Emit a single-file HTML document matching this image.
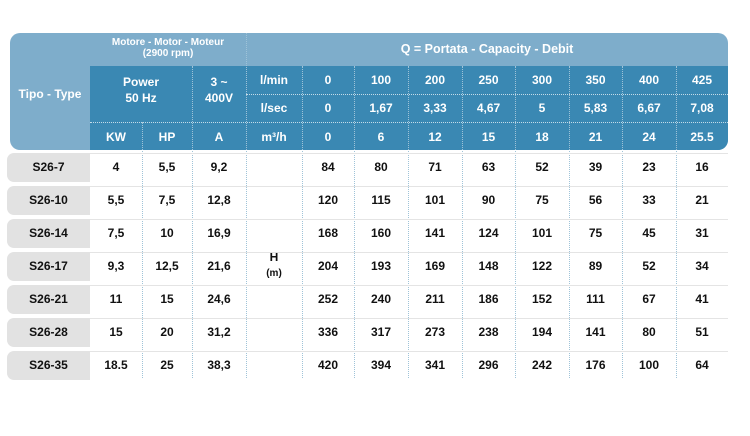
<!DOCTYPE html>
<html><head><meta charset="utf-8"><style>
body{margin:0;width:750px;height:436px;background:#fff;position:relative;font-family:"Liberation Sans",sans-serif;overflow:hidden}
.a{position:absolute;box-sizing:border-box}
.t{position:absolute;text-align:center;font-weight:bold;font-size:12px;line-height:14px}
.w{color:#fff}
.k{color:#111}
.vl{position:absolute;width:0;border-left:1px dotted}
.hl{position:absolute;height:0;border-top:1px dotted rgba(255,255,255,.7)}
</style></head><body>
<div class="a" style="left:10px;top:33px;width:718px;height:117px;background:#7eadcb;border-radius:10px"></div>
<div class="a" style="left:90px;top:66px;width:638px;height:84px;background:#3a88b3;border-radius:0 0 10px 0"></div>
<div class="t w" style="left:90px;top:37px;width:156px;font-size:10px;line-height:11px">Motore - Motor - Moteur<br>(2900 rpm)</div>
<div class="t w" style="left:337px;top:42px;width:300px;font-size:12.5px">Q = Portata - Capacity - Debit</div>
<div class="t w" style="left:10px;top:87px;width:80px">Tipo - Type</div>
<div class="t w" style="left:90px;top:74px;width:102px;line-height:16px">Power<br>50 Hz</div>
<div class="t w" style="left:192px;top:74px;width:54px;line-height:16px">3 ~<br>400V</div>
<div class="t w" style="left:90px;top:130px;width:52px">KW</div>
<div class="t w" style="left:142px;top:130px;width:50px">HP</div>
<div class="t w" style="left:192px;top:130px;width:54px">A</div>
<div class="t w" style="left:246px;top:73px;width:56px">l/min</div>
<div class="t w" style="left:246px;top:101px;width:56px">l/sec</div>
<div class="t w" style="left:246px;top:130px;width:56px">m³/h</div>
<div class="t k" style="left:246px;top:250px;width:56px;line-height:15px">H<br><span style="font-size:10px">(m)</span></div>
<div id="body"></div>
<script>
const cols=[302,354,408,462,515,569,622,676,728];
const lmin=["0","100","200","250","300","350","400","425"];
const lsec=["0","1,67","3,33","4,67","5","5,83","6,67","7,08"];
const m3h=["0","6","12","15","18","21","24","25.5"];
const types=["S26-7","S26-10","S26-14","S26-17","S26-21","S26-28","S26-35"];
const kw=["4","5,5","7,5","9,3","11","15","18.5"];
const hp=["5,5","7,5","10","12,5","15","20","25"];
const amp=["9,2","12,8","16,9","21,6","24,6","31,2","38,3"];
const head=[[84,80,71,63,52,39,23,16],[120,115,101,90,75,56,33,21],[168,160,141,124,101,75,45,31],[204,193,169,148,122,89,52,34],[252,240,211,186,152,111,67,41],[336,317,273,238,194,141,80,51],[420,394,341,296,242,176,100,64]];
const b=document.body;
function txt(x,y,w,s,cls){const d=document.createElement('div');d.className='t '+cls;d.style.left=x+'px';d.style.top=y+'px';d.style.width=w+'px';d.textContent=s;b.appendChild(d);return d;}
[lmin,lsec,m3h].forEach((arr,r)=>arr.forEach((v,i)=>{const d=txt(cols[i],[73,101,130][r],cols[i+1]-cols[i],v,'w');

}));
[94,122].forEach(y=>{const l=document.createElement('div');l.className='hl';l.style.left=(y===122?90:246)+'px';l.style.top=y+'px';l.style.width=(y===122?638:482)+'px';

b.appendChild(l);});
[142,192].forEach(x=>{const l=document.createElement('div');l.className='vl';l.style.left=x+'px';l.style.top=(x===142?122:66)+'px';l.style.height=(x===142?256:312)+'px';l.style.borderColor='#9fc3d8';

b.appendChild(l);});
[246].concat(cols.slice(0,8)).forEach(x=>{const l=document.createElement('div');l.className='vl';l.style.left=x+'px';l.style.top=(x===246?33:66)+'px';l.style.height=(x===246?345:312)+'px';l.style.borderColor='#9fc3d8';

b.appendChild(l);});
types.forEach((t,r)=>{const y=153+r*33;
const p=document.createElement('div');p.className='a';p.style.cssText=`left:7px;top:${y}px;width:83px;height:29px;background:#e2e2e2;border-radius:7px 0 0 7px`;

b.appendChild(p);
const ln=document.createElement('div');ln.className='a';ln.style.cssText=`left:90px;top:${y}px;width:638px;height:0;border-top:1px solid #e4e4e4`;

b.appendChild(ln);
const ty=y+7;
let d=txt(7,ty,83,t,'k');


d=txt(90,ty,52,kw[r],'k');


d=txt(142,ty,50,hp[r],'k');


d=txt(192,ty,54,amp[r],'k');


head[r].forEach((v,i)=>{const c=txt(cols[i],ty,cols[i+1]-cols[i],String(v),'k');

});
});
</script>
</body></html>
